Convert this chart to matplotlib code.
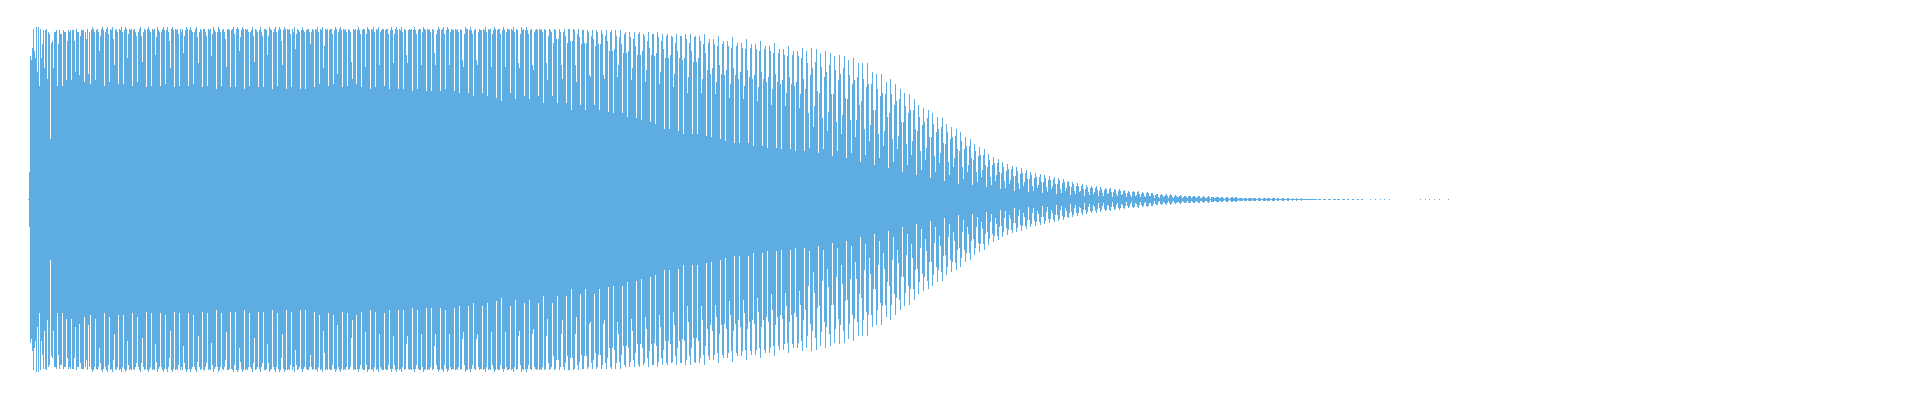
import numpy as np
import matplotlib
matplotlib.use("Agg")
import matplotlib.pyplot as plt

# Waveform peak amplitude per pixel column (percent of full scale), mirrored about zero.
first_column = 28

amp_attack = [0.3, 16,
    83, 81, 88, 99, 86, 82, 100, 74, 100, 66, 99, 82, 90, 98, 76, 98, 99, 70, 97, 96,
    35, 91, 92, 76, 97, 97, 98, 66, 90, 98, 96, 96, 66, 98, 97, 97, 69, 92, 98, 97,
    98, 69, 98, 98, 92, 74, 99, 97, 97, 72, 95, 98, 98, 98, 68, 97, 93, 99, 73, 97]

amp_sustain = [
    67, 98, 100, 99, 97, 69, 98, 99, 97, 86, 95, 99, 100, 98,
    66, 97, 99, 100, 96, 68, 99, 98, 100, 93, 78, 98, 99, 97,
    67, 99, 98, 100, 97, 67, 98, 100, 99, 82, 96, 99, 98, 99,
    66, 98, 99, 97, 95, 68, 97, 99, 100, 95, 80, 97, 99, 98,
    65, 99, 100, 98, 97, 66, 99, 98, 99, 84, 94, 100, 98, 97,
    66, 97, 99, 100, 98, 67, 98, 100, 97, 92, 76, 99, 100, 98,
    65, 99, 98, 99, 96, 66, 99, 97, 99, 85, 95, 98, 100, 99,
    66, 98, 100, 98, 97, 67, 97, 99, 100, 94, 79, 97, 99, 98,
    65, 99, 99, 97, 95, 66, 99, 98, 99, 83, 96, 100, 98, 97,
    64, 97, 100, 99, 97, 66, 98, 99, 97, 93, 77, 99, 99, 98,
    65, 98, 99, 100, 96, 65, 99, 100, 99, 86, 94, 98, 100, 99,
    64, 99, 98, 99, 97, 66, 97, 98, 100, 95, 80, 99, 98, 97,
    65, 98, 100, 97, 95, 65, 99, 99, 98, 84, 95, 100, 99, 98,
    64, 97, 99, 100, 97, 66, 98, 100, 99, 92, 78, 98, 100, 99,
    64, 99, 98, 99, 96, 65, 99, 97, 100, 87, 96, 99, 98, 97,
    64, 98, 100, 98, 97, 64, 98, 99, 99, 97, 90, 97, 99, 98,
    65, 99, 98, 100, 97, 67, 99, 98, 100, 76, 89, 99, 98, 99,
    66, 98, 99, 99, 96, 67, 98, 100, 99, 73, 97, 99, 100, 98,
    65, 99, 98, 99, 97, 66, 99, 98, 97, 80, 70, 99, 98, 99,
    67, 98, 100, 98, 96, 65, 98, 99, 99, 77, 96, 100, 99, 98,
    64, 99, 98, 100, 97, 65, 99, 98, 100, 78, 97, 98, 99, 99,
    66, 98, 99, 99, 96, 64, 98, 100, 98, 79, 96, 99, 100, 98,
    64, 99, 98, 100, 97, 64, 99, 98, 84, 79, 98, 99, 98, 99,
    63, 98, 100, 98, 96, 64, 98, 99, 99, 78, 97, 100, 99, 98,
    63, 99, 98, 99, 97, 63, 99, 98, 85, 78, 96, 98, 100, 99,
    63, 98, 99, 100, 96, 64, 98, 100, 99, 78, 97, 99, 98, 98,
    63, 99, 98, 99, 97, 62, 99, 98, 81, 77, 96, 100, 99, 99,
    62, 98, 100, 98, 96, 60, 98, 99, 81, 78, 97, 99, 98, 98,
    62, 99, 98, 100, 97, 60, 99, 98, 99, 77, 96, 98, 100, 99,
    59, 98, 99, 99, 96, 57, 98, 100, 98, 77, 97, 99, 99, 98,
    62, 99, 98, 100, 97, 58, 99, 98, 79, 76, 96, 100, 98, 99,
    60, 98, 100, 98, 96, 58, 98, 99, 78, 75, 97, 98, 99, 98,
    60, 99, 98, 99, 97, 56, 99, 98, 79, 69, 95, 99, 98, 97]

amp_fade = [
    60, 91, 99, 98, 93, 56, 93, 99, 97, 78, 70, 97, 99, 95,
    56, 91, 99, 99, 92, 52, 92, 99, 98, 78, 68, 96, 99, 94,
    55, 90, 98, 98, 91, 52, 91, 98, 97, 72, 71, 95, 98, 93,
    55, 89, 98, 97, 90, 52, 90, 98, 96, 72, 70, 95, 98, 92,
    51, 86, 97, 98, 86, 50, 87, 98, 95, 71, 78, 94, 98, 90,
    50, 85, 96, 97, 85, 48, 86, 97, 94, 69, 76, 93, 97, 89,
    47, 84, 96, 97, 84, 46, 86, 96, 95, 68, 75, 92, 97, 88,
    45, 84, 96, 96, 83, 44, 85, 97, 94, 67, 74, 92, 96, 87,
    41, 82, 95, 96, 82, 41, 84, 95, 94, 65, 73, 91, 96, 86,
    40, 82, 95, 95, 81, 38, 82, 96, 93, 62, 71, 91, 96, 86,
    38, 80, 94, 95, 80, 38, 82, 95, 92, 62, 70, 90, 96, 85,
    37, 75, 91, 93, 73, 36, 76, 93, 90, 61, 68, 89, 95, 78,
    35, 73, 90, 92, 72, 34, 75, 92, 89, 59, 67, 88, 94, 76,
    33, 72, 89, 91, 70, 33, 74, 91, 88, 58, 66, 87, 93, 75,
    33, 71, 88, 90, 70, 31, 72, 90, 87, 57, 65, 86, 92, 74,
    31, 70, 87, 89, 68, 30, 71, 89, 86, 55, 64, 85, 91, 73,
    30, 68, 85, 87, 67, 29, 69, 87, 84, 54, 62, 83, 89, 71,
    29, 67, 84, 86, 66, 28, 68, 86, 83, 53, 61, 82, 88, 70,
    28, 64, 86, 79, 50, 30, 72, 88, 76, 42, 54, 80, 87, 63,
    27, 62, 85, 77, 47, 29, 71, 86, 74, 40, 51, 78, 85, 61,
    25, 61, 83, 75, 45, 28, 69, 84, 73, 38, 49, 76, 83, 59]

amp_decay = [
    24, 58, 81, 72, 46, 27, 67, 82, 69, 36, 46, 71, 79, 55,
    22, 57, 79, 70, 41, 26, 65, 79, 67, 34, 43, 67, 74, 52,
    20, 52, 73, 64, 38, 24, 60, 73, 62, 31, 40, 61, 68, 48,
    18, 50, 70, 61, 35, 22, 55, 67, 57, 29, 37, 58, 64, 45,
    16, 45, 62, 54, 32, 20, 50, 61, 52, 26, 34, 52, 58, 41,
    14, 40, 55, 48, 28, 17, 43, 53, 45, 23, 30, 47, 52, 36,
    12.5, 36, 50, 44, 25, 16, 39, 48, 41, 21, 27, 42, 47, 33,
    11, 32, 44, 39, 22, 14, 35, 42, 36, 19, 24, 37, 41, 29,
    8.7, 28, 39, 34, 19, 12, 29, 36, 31, 16, 20, 31, 35, 24,
    8.3, 23, 32, 28, 16, 10, 25, 30.5, 26, 13, 17, 26, 29, 20,
    7, 19, 26.6, 23, 13, 8.2, 20, 24.7, 21, 11, 14, 21, 23.5, 16,
    5.8, 15.5, 21.6, 19, 10.7, 6.8, 16.8, 20.5, 17.5, 9, 11.3, 17.5, 19.5, 13.6,
    5, 13.5, 18.8, 16.5, 9.4, 6, 14.8, 18, 15.3, 7.9, 9.9, 15.3, 17, 11.9,
    4.3, 11.7, 16.2, 14.2, 8, 5.1, 12.6, 15.4, 13, 6.7, 8.6, 13.3, 14.8, 10.4,
    3.8, 10.2, 14.2, 12.5, 7.1, 4.5, 11.2, 13.6, 11.5, 6, 7.6, 11.9, 13.2, 9.2,
    3.3, 9.1, 12.6, 11.1, 6.1, 3.9, 9.7, 11.8, 9.9, 5, 6.4, 9.9, 11, 7.7,
    2.8, 7.4, 10.3, 9.1, 5, 3.2, 7.9, 9.6, 8.1, 4.1, 5.2, 8.1, 9, 6.3,
    2.3, 6.1, 8.5, 7.5, 4.2, 2.6, 6.6, 8, 6.7, 3.4, 4.4, 6.8, 7.6, 5.3,
    1.9, 5.2, 7.2, 6.3, 3.5, 2.2, 5.6, 6.8, 5.8, 2.9, 3.8, 5.9, 6.5, 4.6,
    1.6, 4.4, 6.1, 5.4, 3, 1.9, 4.8, 5.8, 4.9, 2.5, 3.2, 5, 5.5, 3.9,
    1.4, 3.7, 5.2, 4.6, 2.6, 1.7, 4.1, 5, 4.2, 2.1, 2.7, 4.2, 4.7, 3.3,
    1.2, 3.2, 4.5, 4, 2.2, 1.4, 3.5, 4.3, 3.6, 1.8, 2.3, 3.6, 4, 2.8,
    1, 2.4, 3.4, 3.0, 1.7, 1.1, 2.6, 3.2, 2.7, 1.4, 1.8, 2.7, 3.0, 2.1,
    0.8, 2.1, 2.9, 2.5, 1.4, 0.9, 2.2, 2.7, 2.3, 1.2, 1.5, 2.3, 2.6, 1.8,
    0.7, 1.7, 2.3, 2.0, 1.2, 0.8, 1.8, 2.2, 1.9, 1.0, 1.3, 1.9, 2.1, 1.5,
    0.6, 1.4, 2.0, 1.8, 1.0, 0.7, 1.6, 1.9, 1.6, 0.8, 1.1, 1.6, 1.8, 1.3,
    0.5, 1.2, 1.7, 1.5, 0.9, 0.6, 1.3, 1.6, 1.4, 0.7, 0.9, 1.4, 1.5, 1.1]

amp_tail = [
    0.5, 1.0, 1.45, 1.3, 0.8, 0.5, 1.1, 1.45, 1.2, 0.6, 0.8, 1.2, 1.4, 1.0,
    0.4, 0.8, 1.05, 0.95, 0.6, 0.4, 0.8, 1.0, 0.9, 0.45, 0.6, 0.9, 1.0, 0.75,
    0.35, 0.7, 1.0, 0.85, 0.5, 0.35, 0.7, 0.95, 0.8, 0.4, 0.55, 0.8, 0.87, 0.6,
    0.3, 0.6, 0.87, 0.75, 0.45, 0.3, 0.65, 0.87, 0.7, 0.35, 0.5, 0.7, 0.85, 0.55,
    0.3, 0.55, 0.85, 0.7, 0.4, 0.3, 0.55, 0.75, 0.6, 0.3, 0.4, 0.55, 0.6, 0.45,
    0.3, 0.45, 0.58, 0.5, 0.35, 0.3, 0.45, 0.58, 0.45, 0.3, 0.35, 0.5, 0.55, 0.4,
    0.3, 0.35, 0.45, 0.4, 0.3, 0.3, 0.35, 0.4, 0.35, 0, 0.3, 0.35, 0.35, 0,
    0, 0.3, 0.35, 0.3, 0, 0, 0.3, 0.35, 0.3, 0, 0, 0.3, 0.35, 0.3,
    0, 0.3, 0.32, 0.3, 0, 0, 0.3, 0.32, 0.3, 0, 0, 0.3, 0.3, 0,
    0, 0, 0.3, 0.3, 0, 0, 0, 0.3, 0.3, 0, 0, 0.3, 0.3, 0,
    0, 0, 0, 0, 0, 0, 0.3, 0, 0, 0, 0, 0.3, 0, 0,
    0, 0, 0.3, 0, 0, 0, 0.3, 0, 0, 0, 0, 0.3, 0, 0,
    0, 0, 0, 0, 0, 0, 0, 0, 0, 0, 0, 0, 0, 0,
    0, 0, 0, 0, 0, 0, 0, 0, 0, 0, 0, 0, 0, 0,
    0.3, 0, 0, 0, 0, 0.3, 0, 0, 0, 0.3, 0, 0, 0, 0,
    0.3, 0, 0, 0, 0, 0.3, 0, 0, 0, 0, 0, 0, 0, 0,
    0.3]

wave_color = "#5DADE2"

amp = np.array(amp_attack + amp_sustain + amp_fade + amp_decay + amp_tail, dtype=float)
cols = first_column + np.arange(len(amp))

fig = plt.figure(figsize=(19.2, 4.0), dpi=100, facecolor="white")
ax = fig.add_axes([0, 0, 1, 1])
ax.set_facecolor("white")
ax.bar(cols, 2 * amp, bottom=-amp, width=1.0, align="edge",
       color=wave_color, linewidth=0)
px_per_pct = 1.725
ax.set_xlim(0, 1920)
ax.set_ylim(-200.5 / px_per_pct, 199.5 / px_per_pct)
ax.axis("off")
fig.savefig("out.png", dpi=100, facecolor="white")
